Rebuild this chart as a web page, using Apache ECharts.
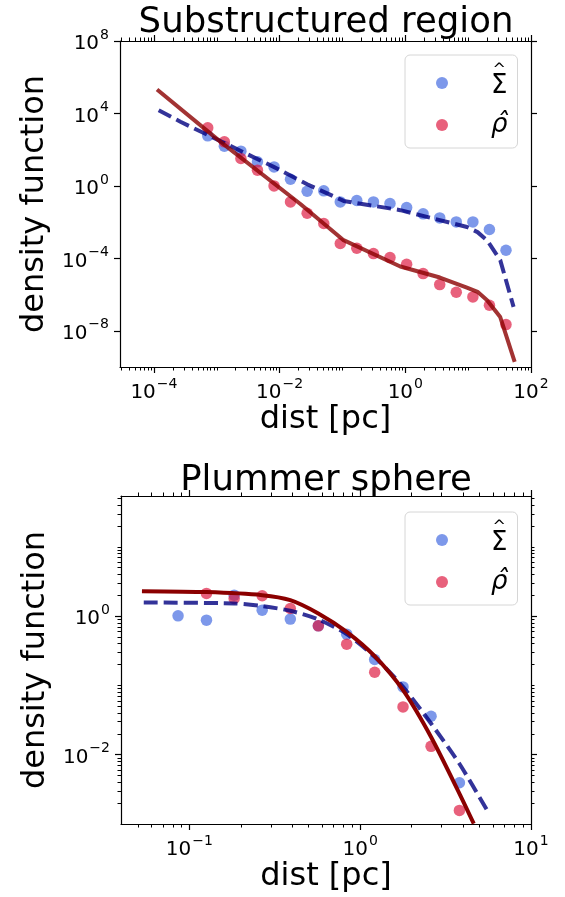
<!DOCTYPE html>
<html><head><meta charset="utf-8">
<script src="https://cdn.jsdelivr.net/npm/echarts@6/dist/echarts.min.js"></script>
<style>html,body{margin:0;padding:0;background:#fff}#c{width:565px;height:897px}</style>
</head><body><div id="c"></div><script>
// ---------- Substructured region (top panel) ----------
const subDist = [7.18e-4, 1.32e-3, 2.42e-3, 4.44e-3, 8.15e-3, 1.49e-2, 2.74e-2, 5.04e-2, 9.23e-2, 0.169, 0.311, 0.570, 1.05, 1.92, 3.53, 6.47, 11.9, 21.8, 40.0];
const subSigma = [581, 156, 82.6, 21.3, 11.2, 2.34, 0.509, 0.531, 0.131, 0.156, 0.131, 0.106, 0.0638, 0.0285, 0.0171, 0.0103, 0.0103, 0.00388, 2.81e-4];
const subRho = [1607, 271, 32.5, 7.36, 1.00, 0.131, 0.0310, 0.00834, 6.55e-4, 3.61e-4, 1.83e-4, 1.10e-4, 4.72e-5, 1.44e-5, 3.56e-6, 1.34e-6, 7.40e-7, 2.56e-7, 2.19e-8];
const subSigmaFitX = [1.19e-4, 2.64e-4, 8.05e-3, 0.0274, 0.1045, 0.834, 9.59, 14.1, 19.95, 32.4, 52.8];
const subSigmaFitY = [1.51e4, 3467, 11.2, 1.24, 0.148, 0.0457, 5.37e-3, 2.8e-3, 1.0e-3, 7.94e-5, 2.09e-7];
const subRhoFitX = [1.12e-4, 1.15e-3, 0.0214, 0.102, 0.832, 3.55, 9.55, 14.1, 20.0, 32.4, 55.0];
const subRhoFitY = [2.09e5, 269, 0.1, 1.05e-3, 3.55e-5, 8.71e-6, 2.40e-6, 1.41e-6, 4.90e-7, 5.75e-8, 1.91e-10];

// ---------- Plummer sphere (bottom panel) ----------
const plumSigmaDist = [0.0859, 0.126, 0.183, 0.267, 0.390, 0.569, 0.834, 1.216, 1.782, 2.600, 3.811];
const plumSigma = [1.01, 0.875, 2.01, 1.22, 0.906, 0.724, 0.550, 0.237, 0.0953, 0.0359, 0.00394];
const plumRhoDist = [0.126, 0.183, 0.267, 0.390, 0.569, 0.834, 1.216, 1.782, 2.600, 3.811];
const plumRho = [2.13, 1.80, 1.97, 1.29, 0.724, 0.394, 0.155, 0.0490, 0.0132, 0.00157];
const plumSigmaFitX = [0.0541, 0.183, 0.267, 0.390, 0.569, 0.834, 1.216, 1.782, 2.600, 3.811, 5.534];
const plumSigmaFitY = [1.578, 1.524, 1.396, 1.194, 0.895, 0.550, 0.258, 0.0953, 0.0282, 0.00741, 0.00158];
const plumRhoFitX = [0.0528, 0.126, 0.267, 0.390, 0.569, 0.834, 1.216, 1.782, 2.600, 3.811, 4.624];
const plumRhoFitY = [2.296, 2.223, 2.009, 1.702, 1.094, 0.593, 0.264, 0.0853, 0.0180, 0.00275, 0.00101];

// ---------- tick labels (decade exponents) ----------
const topXLabels = [-4, -2, 0, 2];
const topYLabels = [-8, -4, 0, 4, 8];
const botXLabels = [-1, 0, 1];
const botYLabels = [-2, 0];

const titles = ['Substructured region', 'Plummer sphere'];
const xName = 'dist [pc]';
const yName = 'density function';
const nameSigma = 'Σ';
const nameRho = 'ρ';

const FONT = 'DejaVu Sans';
const L = Math.log10;
const pairs = (xs, ys) => xs.map((x, i) => [L(x), L(ys[i])]);

function minorTicks(lo, hi, oddDecades) {
  const out = [];
  for (let n = Math.floor(lo) - 1; n <= Math.ceil(hi); n++) {
    for (let k = 2; k <= 9; k++) {
      const v = n + L(k);
      if (v > lo + 0.005 && v < hi - 0.005) out.push(v);
    }
    if (oddDecades && oddDecades.includes(n) && n > lo && n < hi) out.push(n);
  }
  return out;
}

const supFmt = v => {
  const e = Math.round(v);
  return '{b|10}{s|' + (e < 0 ? '\u2212' + (-e) : String(e)) + '}';
};
const richLab = {
  b: { fontSize: 20, fontFamily: FONT, color: '#000', lineHeight: 26, verticalAlign: 'bottom' },
  s: { fontSize: 14, fontFamily: FONT, color: '#000', lineHeight: 26, verticalAlign: 'top', padding: [0, 0, 10, 1] }
};

function axesFor(dim, g, min, max, majors, labels, minors, withName) {
  const isX = dim === 'x';
  const pos = isX ? ['bottom', 'top'] : ['left', 'right'];
  const res = [];
  pos.forEach((p, pi) => {
    res.push({
      type: 'value', gridIndex: g, position: p, min, max,
      axisLine: { show: true, onZero: false, lineStyle: { color: '#000', width: 1.2 } },
      axisTick: { show: true, inside: false, length: 6, customValues: majors, lineStyle: { color: '#000', width: 1.2 } },
      axisLabel: pi === 0 ? {
        show: true, customValues: labels, margin: isX ? 10 : 11,
        formatter: supFmt, rich: richLab, color: '#000'
      } : { show: false },
      splitLine: { show: false },
      name: (pi === 0 && withName) ? (isX ? xName : yName) : '',
      nameLocation: 'middle',
      nameGap: isX ? 37 : 64,
      nameTextStyle: { fontFamily: FONT, fontSize: 32, color: '#000' }
    });
    res.push({
      type: 'value', gridIndex: g, position: p, min, max,
      axisLine: { show: false, onZero: false },
      axisTick: { show: minors.length > 0, inside: false, length: 3.5, customValues: minors.length ? minors : [min], lineStyle: { color: '#000', width: 1 } },
      axisLabel: { show: false },
      splitLine: { show: false }
    });
  });
  return res;
}

const topX = [-4.54, 2], topY = [-10, 8];
const botX = [-1.40, 1], botY = [-3, 1.734];

const xAxis = [
  ...axesFor('x', 0, topX[0], topX[1], [-4, -2, 0, 2], topXLabels, minorTicks(topX[0], topX[1], [-5, -3, -1, 1]), true),
  ...axesFor('x', 1, botX[0], botX[1], [-1, 0, 1], botXLabels, minorTicks(botX[0], botX[1], []), true)
];
const yAxis = [
  ...axesFor('y', 0, topY[0], topY[1], [-8, -4, 0, 4, 8], topYLabels, [], true),
  ...axesFor('y', 1, botY[0], botY[1], [-2, 0], botYLabels, minorTicks(botY[0], botY[1], [-1, 1]), true)
];

const BLUE = 'rgba(65,105,225,0.86)';
const RED = 'rgba(220,20,60,0.84)';
const NAVY = 'rgba(0,0,128,0.8)';

function panelSeries(g, sx, sy, rx, ry, sfx, sfy, rfx, rfy, rhoLineColor, smooth) {
  const ax = { xAxisIndex: g * 4, yAxisIndex: g * 4 };
  return [
    { type: 'scatter', name: nameSigma, ...ax, data: pairs(sx, sy), symbolSize: 11.5, itemStyle: { color: BLUE }, z: 2 },
    { type: 'scatter', name: nameRho, ...ax, data: pairs(rx, ry), symbolSize: 11.5, itemStyle: { color: RED }, z: 2 },
    { type: 'line', name: 'sigfit' + g, ...ax, data: pairs(sfx, sfy), showSymbol: false, symbol: 'none', smooth,
      lineStyle: { color: NAVY, width: 4, type: [14, 6] }, z: 3, silent: true },
    { type: 'line', name: 'rhofit' + g, ...ax, data: pairs(rfx, rfy), showSymbol: false, symbol: 'none', smooth,
      lineStyle: { color: rhoLineColor, width: 4 }, z: 3, silent: true }
  ];
}

const legendBase = (top) => ({
  data: [nameSigma, nameRho], orient: 'vertical', left: 405, top,
  icon: 'circle', itemWidth: 12, itemHeight: 12, itemGap: 13,
  padding: [7, 10, 10, 31], borderColor: '#d6d6d6', borderWidth: 1, borderRadius: 5,
  backgroundColor: 'rgba(255,255,255,0.8)', selectedMode: false,
  formatter: n => n === nameSigma ? '{h|^}\n{u|Σ}' : '{i|ρ\u0302}',
  textStyle: {
    padding: [0, 0, 0, 38],
    rich: {
      h: { fontFamily: FONT, fontSize: 16, color: '#000', lineHeight: 6, padding: [0, 0, 0, 1.5] },
      u: { fontFamily: FONT, fontSize: 26, color: '#000', lineHeight: 26 },
      i: { fontFamily: FONT, fontSize: 26, fontStyle: 'italic', color: '#000', lineHeight: 26 }
    }
  }
});

const option = {
  animation: false,
  backgroundColor: '#fff',
  title: [
    { text: titles[0], left: 321, textAlign: 'center', top: 0, textStyle: { fontFamily: FONT, fontSize: 35.5, fontWeight: 'normal', color: '#000' } },
    { text: titles[1], left: 321, textAlign: 'center', top: 458, textStyle: { fontFamily: FONT, fontSize: 35.5, fontWeight: 'normal', color: '#000' } }
  ],
  legend: [legendBase(55), legendBase(512)],
  grid: [
    { left: 120, top: 41, width: 411, height: 326 },
    { left: 121, top: 496, width: 410, height: 328 }
  ],
  xAxis, yAxis,
  series: [
    ...panelSeries(0, subDist, subSigma, subDist, subRho, subSigmaFitX, subSigmaFitY, subRhoFitX, subRhoFitY, 'rgba(139,0,0,0.8)', false),
    ...panelSeries(1, plumSigmaDist, plumSigma, plumRhoDist, plumRho, plumSigmaFitX, plumSigmaFitY, plumRhoFitX, plumRhoFitY, '#8b0000', 0.25)
  ]
};
const chart = echarts.init(document.getElementById('c'), null, { renderer: 'canvas' });
chart.setOption(option);
</script></body></html>
